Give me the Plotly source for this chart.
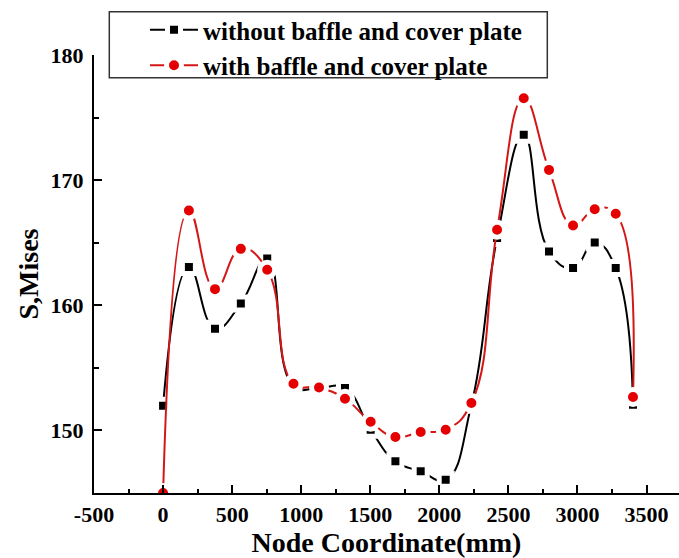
import plotly.graph_objects as go

# Node coordinates (mm)
node_x = [0, 187, 376, 563, 754, 944, 1129, 1317, 1503, 1682, 1865, 2046,
          2232, 2418, 2611, 2794, 2968, 3125, 3277, 3402]

# S, Mises values
without_baffle = [151.97, 163.05, 158.12, 160.14, 163.74, 153.51, 153.40, 153.39,
                  150.06, 147.53, 146.73, 146.06, 152.05, 165.37, 173.62, 164.30,
                  162.97, 165.02, 162.97, 152.05]
with_baffle = [145.0, 167.57, 161.29, 164.51, 162.84, 153.73, 153.43, 152.53,
               150.69, 149.47, 149.87, 150.06, 152.19, 166.03, 176.55, 170.82,
               166.37, 167.68, 167.31, 152.67]

series_names = ["without baffle and cover plate", "with baffle and cover plate"]
x_ticks = [-500, 0, 500, 1000, 1500, 2000, 2500, 3000, 3500]
y_ticks = [150, 160, 170, 180]

FONT = "Liberation Serif, Times New Roman, serif"
L, T, W, H = 94, 55, 585, 438

fig = go.Figure()
fig.add_trace(go.Scatter(
    x=node_x, y=without_baffle, name=series_names[0], mode="lines+markers",
    line=dict(color="#000000", width=2, shape="spline", smoothing=1.3),
    marker=dict(symbol="square", size=13, color="#000000",
                line=dict(color="white", width=5)),
))
fig.add_trace(go.Scatter(
    x=node_x, y=with_baffle, name=series_names[1], mode="lines+markers",
    line=dict(color="rgb(212,22,22)", width=2, shape="spline", smoothing=1.3),
    marker=dict(symbol="circle", size=15, color="rgb(228,0,0)",
                line=dict(color="white", width=5)),
))

fig.update_layout(
    width=679, height=558,
    margin=dict(l=L, r=679 - L - W, t=T, b=558 - T - H, autoexpand=False),
    paper_bgcolor="white", plot_bgcolor="white",
    font=dict(family=FONT, color="black"),
    showlegend=True,
    legend=dict(
        xref="paper", yref="paper",
        x=(145 - L) / W, y=(T + H - 7) / H, xanchor="left", yanchor="top",
        bgcolor="rgba(0,0,0,0)", borderwidth=0,
        font=dict(family=FONT, size=25, weight="bold", color="black"),
        itemsizing="trace", itemwidth=48, tracegroupgap=0,
    ),
    xaxis=dict(
        range=[-500, 3735], showline=True, linecolor="black", linewidth=2,
        showgrid=False, zeroline=False,
        tickmode="array", tickvals=x_ticks, ticktext=[str(v) for v in x_ticks],
        ticks="inside", ticklen=8, tickwidth=2, tickcolor="black",
        minor=dict(ticks="inside", ticklen=4, tickwidth=2, dtick=250, tick0=-500,
                   tickcolor="black", showgrid=False),
        tickfont=dict(family=FONT, size=22, weight="bold", color="black"),
        ticklabelstandoff=1,
        title=dict(text="Node Coordinate(mm)", standoff=0,
                   font=dict(family=FONT, size=28, weight="bold", color="black")),
    ),
    yaxis=dict(
        range=[145, 180], showline=True, linecolor="black", linewidth=2,
        showgrid=False, zeroline=False,
        tickmode="array", tickvals=y_ticks, ticktext=[str(v) for v in y_ticks],
        ticks="inside", ticklen=8, tickwidth=2, tickcolor="black",
        minor=dict(ticks="inside", ticklen=5, tickwidth=2, dtick=5, tick0=145,
                   tickcolor="black", showgrid=False),
        tickfont=dict(family=FONT, size=22, weight="bold", color="black"),
        ticklabelstandoff=4,
        title=dict(text="S,Mises", standoff=4,
                   font=dict(family=FONT, size=28, weight="bold", color="black")),
    ),
)

# Legend frame
fig.add_shape(type="rect", xref="paper", yref="paper",
              x0=(109.3 - L) / W, x1=(547.3 - L) / W,
              y0=(T + H - 77.7) / H, y1=(T + H - 11.7) / H,
              line=dict(color="#333333", width=1.5), fillcolor="rgba(0,0,0,0)",
              layer="above")

fig.write_html("out.html")
